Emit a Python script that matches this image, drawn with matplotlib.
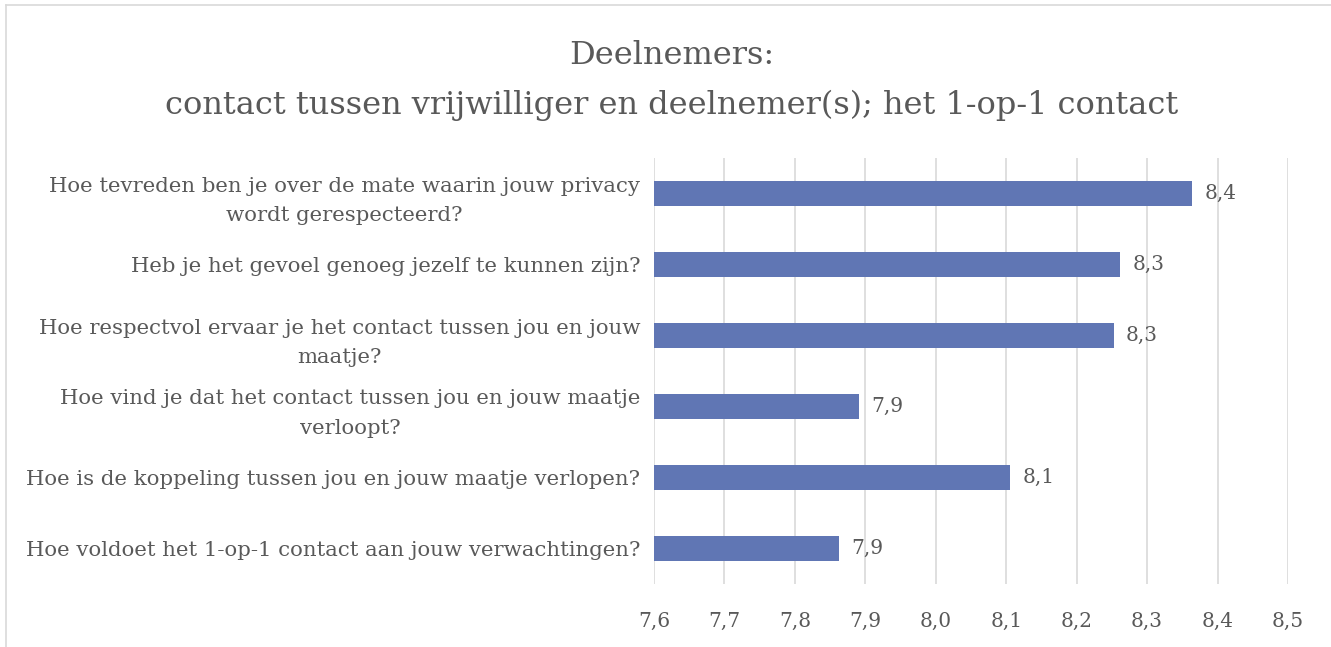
import matplotlib
matplotlib.use("Agg")
import matplotlib.pyplot as plt
from matplotlib.lines import Line2D

categories = [
    "Hoe tevreden ben je over de mate waarin jouw privacy\nwordt gerespecteerd?",
    "Heb je het gevoel genoeg jezelf te kunnen zijn?",
    "Hoe respectvol ervaar je het contact tussen jou en jouw\nmaatje?",
    "Hoe vind je dat het contact tussen jou en jouw maatje\nverloopt?",
    "Hoe is de koppeling tussen jou en jouw maatje verlopen?",
    "Hoe voldoet het 1-op-1 contact aan jouw verwachtingen?",
]
values = [8.364, 8.262, 8.253, 7.891, 8.106, 7.863]
xticks = [7.6, 7.7, 7.8, 7.9, 8.0, 8.1, 8.2, 8.3, 8.4, 8.5]
title_lines = ["Deelnemers:", "contact tussen vrijwilliger en deelnemer(s); het 1-op-1 contact"]

FONT = "DejaVu Serif"
TXT = "#595959"
BAR = "#6076B4"
GRID = "#D9D9D9"

W, H = 1331, 647
fig = plt.figure(figsize=(W / 100, H / 100), dpi=100)
fig.patch.set_facecolor("white")

ax = fig.add_axes([654 / W, 1 - 584 / H, (1288 - 654) / W, (584 - 158) / H])
ypos = list(range(len(categories)))[::-1]
ax.barh(ypos, values, height=0.35, color=BAR, left=0)
ax.set_xlim(7.6, 8.5)
ax.set_ylim(-0.5, len(categories) - 0.5)
ax.set_xticks(xticks)
ax.set_xticklabels([f"{t:.1f}".replace(".", ",") for t in xticks],
                   fontfamily=FONT, fontsize=14.5, color=TXT)
ax.set_yticks(ypos)
ax.set_yticklabels(categories, fontfamily=FONT, fontsize=15.3, color=TXT,
                   multialignment="center", linespacing=1.7)
ax.tick_params(axis="both", length=0)
ax.tick_params(axis="x", pad=20)
ax.tick_params(axis="y", pad=10)
ax.grid(axis="x", color=GRID, linewidth=1.2)
ax.set_axisbelow(True)
for s in ax.spines.values():
    s.set_visible(False)

for y, v in zip(ypos, values):
    ax.text(v + 0.017, y, f"{v:.1f}".replace(".", ","), va="center", ha="left",
            fontfamily=FONT, fontsize=14.5, color=TXT)

fig.text(672 / W, 1 - 55 / H, title_lines[0], ha="center", va="center",
         fontfamily=FONT, fontsize=23, color=TXT)
fig.text(672 / W, 1 - 105 / H, title_lines[1], ha="center", va="center",
         fontfamily=FONT, fontsize=23, color=TXT)

# chart area border (left and top visible)
fig.add_artist(Line2D([6 / W, 6 / W], [0, 1 - 5 / H], transform=fig.transFigure,
                      color=GRID, linewidth=1.2))
fig.add_artist(Line2D([6 / W, 1], [1 - 5 / H, 1 - 5 / H], transform=fig.transFigure,
                      color=GRID, linewidth=1.2))

fig.savefig("out.png", dpi=100, facecolor="white")
